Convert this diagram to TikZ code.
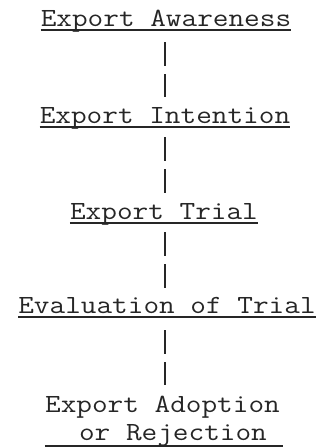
\documentclass[tikz,border=0pt]{standalone}
\usepackage{fontspec}
\newfontfamily\tw{Latin Modern Mono}[FakeStretch=1.16]
\usetikzlibrary{calc}
\begin{document}
\begin{tikzpicture}[x=1pt,y=-1pt,
  lbl/.style={anchor=base,inner sep=0pt,font=\tw\fontsize{26.2}{28}\selectfont,text=black!85},
  uline/.style={draw=black!85,line width=1.8pt},
  conn/.style={draw=black!85,line width=1.4pt,dash pattern=on 24pt off 8pt}]
\useasboundingbox (0,0) rectangle (321,448);
\coordinate (axis) at (165,0);
\node[lbl] (aw) at (166,26) {Export Awareness};
\node[lbl] (in) at (165,123) {Export Intention};
\node[lbl] (tr) at (164,219) {Export Trial};
\node[lbl] (ev) at (167,313) {Evaluation of Trial};
\node[lbl] (ad) at (162.5,412) {Export Adoption};
\node[lbl] (rj) at (173,440) {or Rejection};
% underlines
\foreach \n in {aw,in,tr,ev}{
  \draw[uline] ($(\n.base west)+(0,4)$) -- ($(\n.base east)+(0,4)$);
}
\draw[uline] ($(rj.base west)+(-34,6)$) -- ($(rj.base east)+(16,6)$);
% connectors
\draw[conn] ($(aw.base -| axis)+(0,16)$) -- ($(in.base -| axis)+(0,-26)$);
\draw[conn] ($(in.base -| axis)+(0,14)$) -- ($(tr.base -| axis)+(0,-26)$);
\draw[conn] ($(tr.base -| axis)+(0,13)$) -- ($(ev.base -| axis)+(0,-25)$);
\draw[conn] ($(ev.base -| axis)+(0,17)$) -- ($(ad.base -| axis)+(0,-27)$);
\end{tikzpicture}
\end{document}
